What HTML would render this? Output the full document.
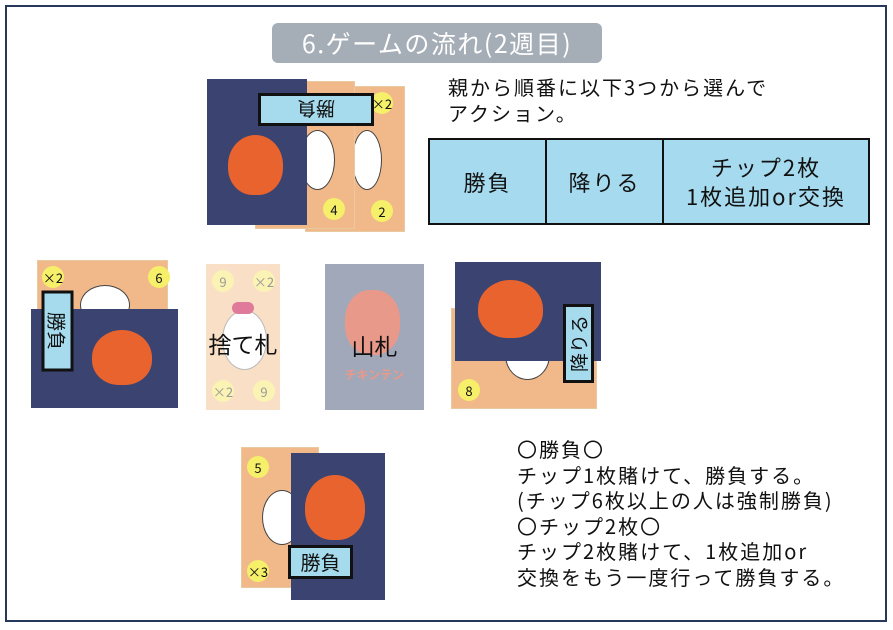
<!DOCTYPE html>
<html><head><meta charset="utf-8"><style>
*{margin:0;padding:0;box-sizing:border-box}
body{width:893px;height:630px;background:#fff;position:relative;overflow:hidden;font-family:"Noto Sans CJK JP","Liberation Sans",sans-serif;color:#111}
.a{position:absolute}
.or{background:#f1b98a;border:1px solid #e8c9a0}
.nv{background:#3b4470}
.lb{position:absolute;background:#a6dbee;border:3px solid #111;font-size:19px;display:flex;align-items:center;justify-content:center;line-height:1}
.chk{position:absolute;background:#e8632e;border-radius:50% 50% 45% 45%}
.wh{position:absolute;background:#fff;border:1px solid #444;border-radius:50%}
.co{position:absolute;width:22px;height:22px;border-radius:50%;background:#f5ef6a;font-size:13px;display:flex;align-items:center;justify-content:center;line-height:1}
.t{position:absolute;font-size:20px;white-space:nowrap;letter-spacing:2px}
</style></head><body>
<div class="a" style="left:5px;top:5px;width:882px;height:617px;border:2px solid #27395a"></div>
<div class="a" style="left:272px;top:23px;width:330px;height:40px;background:#a5adb6;border-radius:6px;color:#fff;font-size:25px;letter-spacing:1.5px;display:flex;align-items:center;justify-content:center;line-height:1">6.ゲームの流れ(2週目)</div>

<div class="a or" style="left:305px;top:86px;width:100px;height:146px"></div>
<div class="wh" style="left:352px;top:130px;width:30px;height:60px"></div>
<div class="co" style="left:371px;top:200px">2</div>
<div class="co" style="left:371px;top:92px">×2</div>
<div class="a or" style="left:255px;top:81px;width:100px;height:148px"></div>
<div class="wh" style="left:300px;top:130px;width:35px;height:60px"></div>
<div class="co" style="left:323px;top:198px">4</div>
<div class="a nv" style="left:207px;top:79px;width:100px;height:146px"></div>
<div class="chk" style="left:228px;top:135px;width:55px;height:60px"></div>
<div class="lb" style="left:258px;top:93px;width:116px;height:33px;transform:rotate(180deg)">勝負</div>

<div class="t" style="left:448px;top:74px;line-height:26px">親から順番に以下3つから選んで<br>アクション。</div>
<div class="a" style="left:428px;top:138px;width:442px;height:87px;background:#a6daee;border:2px solid #111;display:flex">
<div style="width:117px;border-right:2px solid #111;display:flex;align-items:center;justify-content:center;font-size:22px;letter-spacing:2px">勝負</div>
<div style="width:117px;border-right:2px solid #111;display:flex;align-items:center;justify-content:center;font-size:22px;letter-spacing:2px">降りる</div>
<div style="flex:1;display:flex;align-items:center;justify-content:center;font-size:22px;text-align:center;line-height:29px;letter-spacing:2px">チップ2枚<br>1枚追加or交換</div>
</div>

<div class="a or" style="left:37px;top:260px;width:131px;height:100px"></div>
<div class="wh" style="left:80px;top:285px;width:50px;height:40px"></div>
<div class="co" style="left:148px;top:266px">6</div>
<div class="co" style="left:42px;top:266px">×2</div>
<div class="a nv" style="left:31px;top:309px;width:147px;height:99px"></div>
<div class="chk" style="left:92px;top:330px;width:60px;height:55px"></div>
<div class="lb" style="left:17px;top:315px;width:81px;height:32px;transform:rotate(90deg);font-size:19px">勝負</div>

<div class="a" style="left:206px;top:264px;width:74px;height:146px;background:#f9dfc6"></div>
<div class="wh" style="left:222px;top:310px;width:45px;height:60px;border-color:#bbb"></div>
<div class="a" style="left:232px;top:302px;width:22px;height:12px;background:#e07a9a;border-radius:6px"></div>
<div class="co" style="left:212px;top:270px;background:#fbf3b4;color:#999">9</div>
<div class="co" style="left:253px;top:270px;background:#fbf3b4;color:#999">×2</div>
<div class="co" style="left:212px;top:380px;background:#fbf3b4;color:#999">×2</div>
<div class="co" style="left:253px;top:380px;background:#fbf3b4;color:#999">9</div>
<div class="a" style="left:196px;top:328px;width:94px;text-align:center;font-size:23px;line-height:30px">捨て札</div>

<div class="a" style="left:325px;top:264px;width:99px;height:146px;background:#a1a8ba"></div>
<div class="a" style="left:345px;top:290px;width:55px;height:65px;background:#e9998a;border-radius:45%"></div>
<div class="a" style="left:325px;top:330px;width:99px;text-align:center;font-size:23px;line-height:30px">山札</div>
<div class="a" style="left:325px;top:366px;width:99px;text-align:center;font-size:12px;color:#e9998a;font-weight:bold">チキンテン</div>

<div class="a or" style="left:451px;top:308px;width:146px;height:101px"></div>
<div class="wh" style="left:505px;top:330px;width:45px;height:50px"></div>
<div class="co" style="left:458px;top:379px">8</div>
<div class="a nv" style="left:455px;top:262px;width:146px;height:99px"></div>
<div class="chk" style="left:478px;top:280px;width:65px;height:58px"></div>
<div class="lb" style="left:539px;top:328px;width:79px;height:31px;transform:rotate(-90deg);font-size:19px">降りる</div>

<div class="a or" style="left:241px;top:447px;width:78px;height:141px"></div>
<div class="wh" style="left:262px;top:490px;width:40px;height:55px"></div>
<div class="co" style="left:247px;top:456px">5</div>
<div class="co" style="left:247px;top:560px">×3</div>
<div class="a nv" style="left:291px;top:453px;width:94px;height:147px"></div>
<div class="chk" style="left:305px;top:475px;width:60px;height:65px"></div>
<div class="lb" style="left:288px;top:545px;width:65px;height:34px;font-size:20px">勝負</div>

<div class="t" style="left:517px;top:436px;line-height:25.5px">〇勝負〇<br>チップ1枚賭けて、勝負する。<br>(チップ6枚以上の人は強制勝負)<br>〇チップ2枚〇<br>チップ2枚賭けて、1枚追加or<br>交換をもう一度行って勝負する。</div>
</body></html>
